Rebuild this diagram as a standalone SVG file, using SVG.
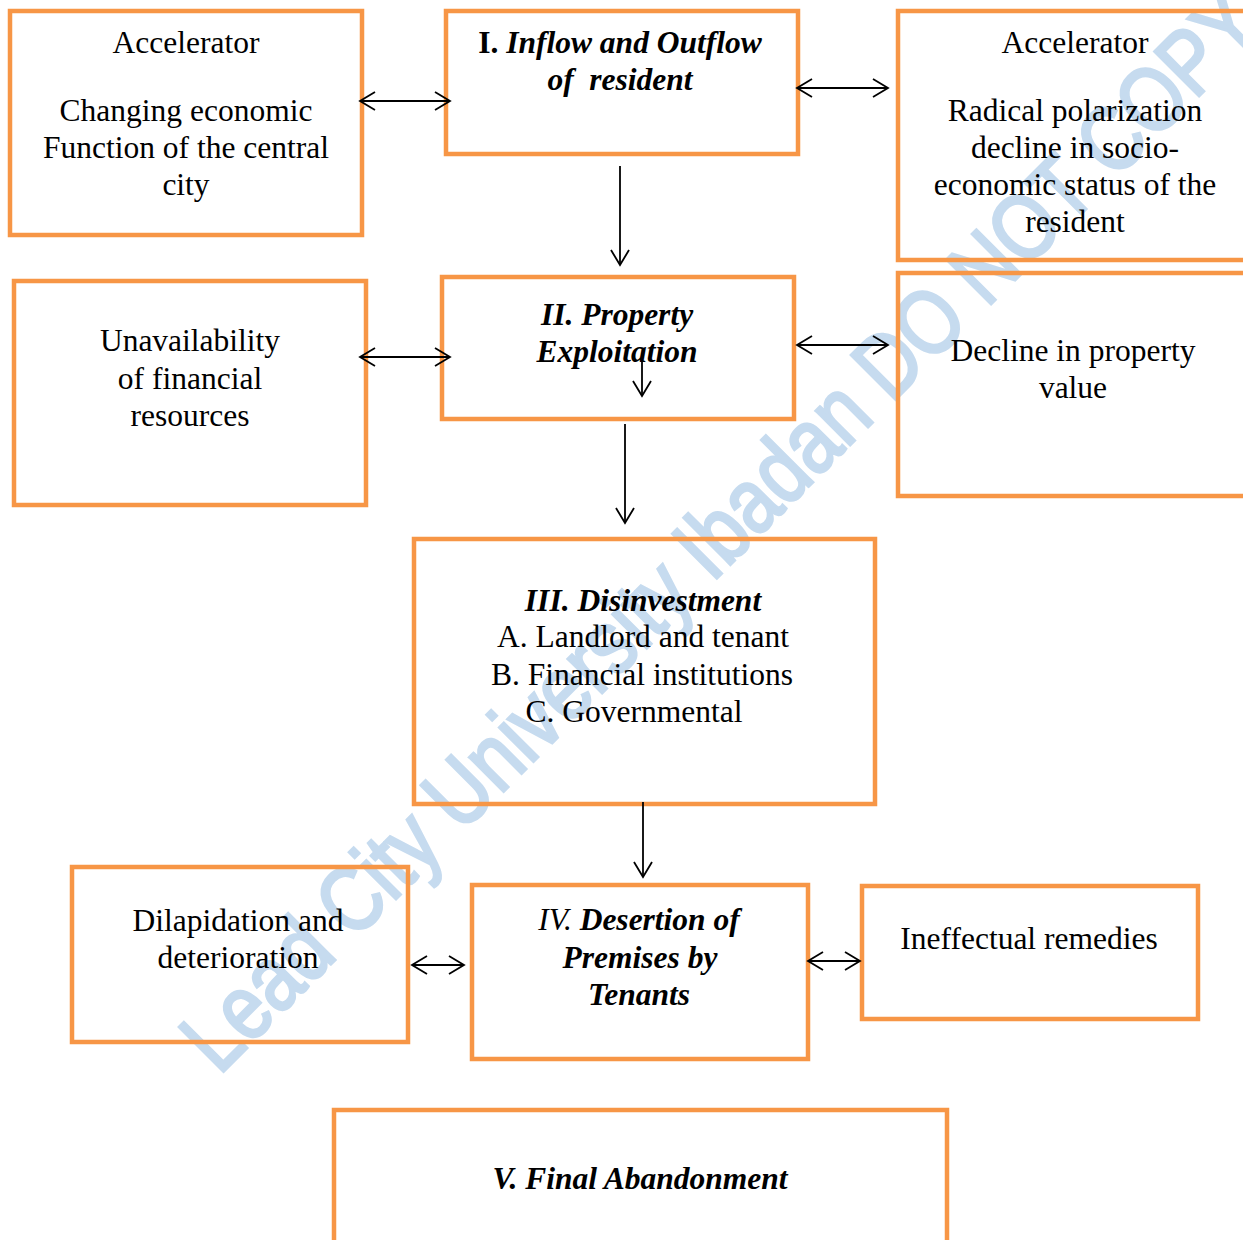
<svg xmlns="http://www.w3.org/2000/svg" width="1243" height="1240" viewBox="0 0 1243 1240">
<style>
.box{fill:none;stroke:#f79646;stroke-width:4.5}
.t{font-family:"Liberation Serif","Times New Roman",serif;font-size:31.5px;fill:#000;text-anchor:middle}
.bi{font-weight:bold;font-style:italic}
.b{font-weight:bold;font-style:normal}
.i{font-style:italic;font-weight:normal}
.c{fill:none;stroke:#000;stroke-width:1.8}
.wm{font-family:"Liberation Sans",Arial,sans-serif;font-size:76px;fill:#c6dbef;stroke:#c6dbef;stroke-width:2.5}
</style>
<defs>
<marker id="ah" markerUnits="userSpaceOnUse" markerWidth="20" markerHeight="24" refX="16" refY="10" orient="auto-start-reverse" viewBox="0 0 20 20">
<path d="M1,1 L16,10 L1,19" fill="none" stroke="#000" stroke-width="1.8"/>
</marker>
</defs>
<rect width="1243" height="1240" fill="#fff"/>
<text class="wm" transform="translate(219,1076) rotate(-45) scale(1,1.2)">Lead City University Ibadan DO NOT COPY</text>

<g id="n-accel-left">
<rect class="box" x="10" y="11" width="352" height="224"/>
<text class="t" x="186" y="53">Accelerator</text>
<text class="t" x="186" y="121">Changing economic</text>
<text class="t" x="186" y="158">Function of the central</text>
<text class="t" x="186" y="195">city</text>
</g>
<g id="n-inflow">
<rect class="box" x="446" y="11" width="352" height="143"/>
<text class="t" x="620" y="53"><tspan class="b">I. </tspan><tspan class="bi">Inflow and Outflow</tspan></text>
<text class="t bi" x="620" y="90" xml:space="preserve">of  resident</text>
</g>
<g id="n-accel-right">
<rect class="box" x="898" y="11" width="350" height="249"/>
<text class="t" x="1075" y="53">Accelerator</text>
<text class="t" x="1075" y="121">Radical polarization</text>
<text class="t" x="1075" y="158">decline in socio-</text>
<text class="t" x="1075" y="195">economic status of the</text>
<text class="t" x="1075" y="232">resident</text>
</g>
<g id="n-unavail">
<rect class="box" x="14" y="281" width="352" height="224"/>
<text class="t" x="190" y="351">Unavailability</text>
<text class="t" x="190" y="389">of financial</text>
<text class="t" x="190" y="426">resources</text>
</g>
<g id="n-exploit">
<rect class="box" x="442" y="277" width="352" height="142"/>
<text class="t bi" x="617" y="325">II. Property</text>
<text class="t bi" x="617" y="362">Exploitation</text>
</g>
<g id="n-decline">
<rect class="box" x="898" y="273" width="350" height="223"/>
<text class="t" x="1073" y="361">Decline in property</text>
<text class="t" x="1073" y="398">value</text>
</g>
<g id="n-disinvest">
<rect class="box" x="414" y="539" width="461" height="265"/>
<text class="t bi" x="643" y="611">III. Disinvestment</text>
<text class="t" x="643" y="647">A. Landlord and tenant</text>
<text class="t" x="642" y="685">B. Financial institutions</text>
<text class="t" x="634" y="722">C. Governmental</text>
</g>
<g id="n-dilap">
<rect class="box" x="72" y="867" width="336" height="175"/>
<text class="t" x="238" y="931">Dilapidation and</text>
<text class="t" x="238" y="968">deterioration</text>
</g>
<g id="n-desertion">
<rect class="box" x="472" y="885" width="336" height="174"/>
<text class="t" x="639" y="930"><tspan class="i">IV. </tspan><tspan class="bi">Desertion of</tspan></text>
<text class="t bi" x="640" y="968">Premises by</text>
<text class="t bi" x="639" y="1005">Tenants</text>
</g>
<g id="n-ineffectual">
<rect class="box" x="862" y="886" width="336" height="133"/>
<text class="t" x="1029" y="949">Ineffectual remedies</text>
</g>
<g id="n-abandon">
<rect class="box" x="334" y="1110" width="613" height="140"/>
<text class="t bi" x="640" y="1189">V. Final Abandonment</text>
</g>

<g id="connectors">
<line class="c" x1="360" y1="101" x2="450" y2="101" marker-start="url(#ah)" marker-end="url(#ah)"/>
<line class="c" x1="797" y1="88" x2="888" y2="88" marker-start="url(#ah)" marker-end="url(#ah)"/>
<line class="c" x1="620" y1="166" x2="620" y2="265" marker-end="url(#ah)"/>
<line class="c" x1="360" y1="357" x2="450" y2="357" marker-start="url(#ah)" marker-end="url(#ah)"/>
<line class="c" x1="797" y1="345" x2="888" y2="345" marker-start="url(#ah)" marker-end="url(#ah)"/>
<line class="c" x1="642" y1="360" x2="642" y2="396" marker-end="url(#ah)"/>
<line class="c" x1="625" y1="424" x2="625" y2="523" marker-end="url(#ah)"/>
<line class="c" x1="643" y1="802" x2="643" y2="877" marker-end="url(#ah)"/>
<line class="c" x1="412" y1="965" x2="464" y2="965" marker-start="url(#ah)" marker-end="url(#ah)"/>
<line class="c" x1="808" y1="961" x2="860" y2="961" marker-start="url(#ah)" marker-end="url(#ah)"/>
</g>
</svg>
